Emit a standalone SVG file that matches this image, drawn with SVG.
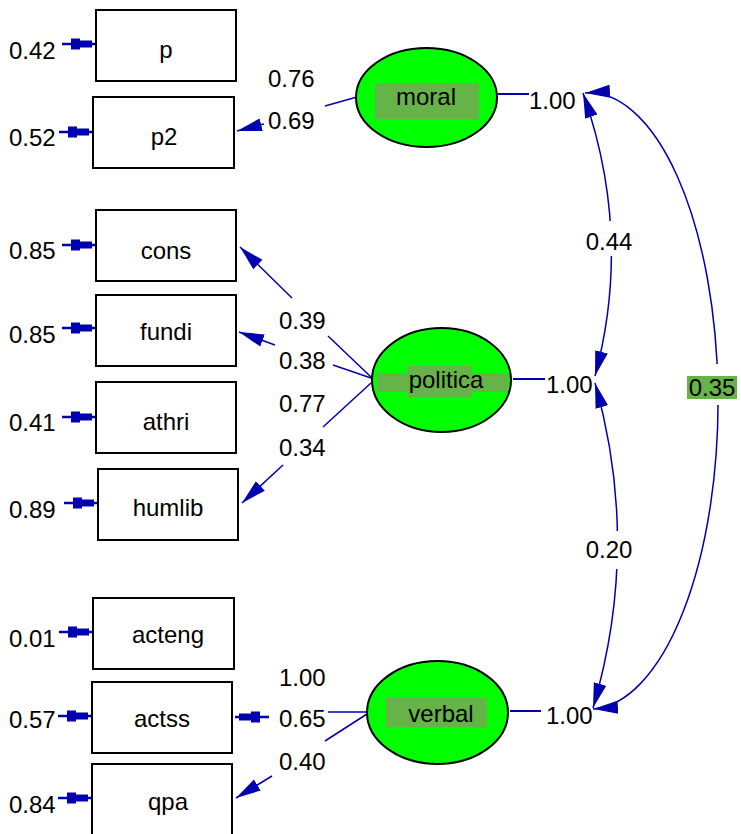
<svg xmlns="http://www.w3.org/2000/svg" xmlns:xlink="http://www.w3.org/1999/xlink" width="741" height="834" viewBox="0 0 741 834">
<style>
text{font-family:"Liberation Sans",Arial,Helvetica,sans-serif;font-size:24px;fill:#000}
.box{fill:#fff;stroke:#000;stroke-width:2}
.lat{fill:#00ff00;stroke:#000;stroke-width:2}
.lbl{fill:#66b34a}
.c{fill:none;stroke:#0000b0;stroke-width:1.5}
.e{fill:none;stroke:#0000b0;stroke-width:2}
.mid{text-anchor:middle}
</style>
<defs>
<marker id="ah" markerUnits="userSpaceOnUse" markerWidth="28" markerHeight="18" refX="25" refY="9" orient="auto-start-reverse">
<path d="M0,2.5 L25,9 L0,15.5 Z" fill="#0000b0"/>
</marker>
<g id="err">
<path d="M-34,0 H0" stroke="#0000b0" stroke-width="2.4"/>
<polygon points="-25,-5.5 -16,-5.5 -16,-3.5 -4,-3.5 -4,3.5 -16,3.5 -16,5.5 -25,5.5" fill="#0000b0"/>
</g>
</defs>

<g id="connectors">
<use xlink:href="#err" href="#err" transform="translate(96,44)"/>
<use xlink:href="#err" href="#err" transform="translate(93,132)"/>
<use xlink:href="#err" href="#err" transform="translate(96,245)"/>
<use xlink:href="#err" href="#err" transform="translate(96,328)"/>
<use xlink:href="#err" href="#err" transform="translate(96,417)"/>
<use xlink:href="#err" href="#err" transform="translate(98,503)"/>
<use xlink:href="#err" href="#err" transform="translate(93,632)"/>
<use xlink:href="#err" href="#err" transform="translate(92,716)"/>
<use xlink:href="#err" href="#err" transform="translate(92,798)"/>
<path class="c" d="M357,97 L325,106"/>
<path class="c" d="M264,124 L237,131" marker-end="url(#ah)"/>
<path class="c" d="M371,377 L328,336"/>
<path class="c" d="M292,298 L240,247" marker-end="url(#ah)"/>
<path class="c" d="M371,378 L333,365"/>
<path class="c" d="M275,345 L239,332" marker-end="url(#ah)"/>
<path class="c" d="M371,383 L323,427"/>
<path class="c" d="M283,465 L242,503" marker-end="url(#ah)"/>
<path class="c" d="M367,712 L328,712"/>
<use xlink:href="#err" href="#err" transform="translate(235,717) rotate(180)"/>
<path class="c" d="M367,714 L325,741"/>
<path class="c" d="M272,776 L236,798" marker-end="url(#ah)"/>
<path class="e" d="M498,94 H529"/>
<path class="e" d="M513,379 H545"/>
<path class="e" d="M510,711 H541"/>
<path class="c" d="M583,93 Q633,235 595,376" marker-start="url(#ah)" marker-end="url(#ah)"/>
<path class="c" d="M595,383 Q641,545 593,708" marker-start="url(#ah)" marker-end="url(#ah)"/>
<path class="c" d="M585,93 A129,308 0 0 1 593,709" marker-start="url(#ah)" marker-end="url(#ah)"/>
<rect x="586" y="221" width="48" height="35" fill="#fff"/>
<rect x="586" y="531" width="48" height="38" fill="#fff"/>
<rect x="700" y="364" width="36" height="41" fill="#fff"/>
<rect class="lbl" x="687" y="376" width="50" height="23"/>
<text x="609" y="250" class="mid">0.44</text>
<text x="609" y="558" class="mid">0.20</text>
<text x="712" y="396" class="mid">0.35</text>
<text x="268" y="87">0.76</text>
<text x="268" y="129">0.69</text>
<text x="279" y="329">0.39</text>
<text x="279" y="369">0.38</text>
<text x="279" y="412">0.77</text>
<text x="279" y="456">0.34</text>
<text x="279" y="686">1.00</text>
<text x="279" y="727">0.65</text>
<text x="279" y="770">0.40</text>
<text x="529" y="109">1.00</text>
<text x="546" y="393">1.00</text>
<text x="546" y="724">1.00</text>
</g>

<g id="p">
<rect class="box" x="96" y="10" width="140" height="71"/>
<text x="166" y="58" class="mid">p</text>
<text x="9" y="59">0.42</text>
</g>
<g id="p2">
<rect class="box" x="93" y="97" width="141" height="71"/>
<text x="164" y="145" class="mid">p2</text>
<text x="9" y="146">0.52</text>
</g>
<g id="cons">
<rect class="box" x="96" y="210" width="140" height="71"/>
<text x="166" y="259" class="mid">cons</text>
<text x="9" y="259">0.85</text>
</g>
<g id="fundi">
<rect class="box" x="96" y="295" width="140" height="71"/>
<text x="166" y="340" class="mid">fundi</text>
<text x="9" y="343">0.85</text>
</g>
<g id="athri">
<rect class="box" x="96" y="382" width="140" height="71"/>
<text x="166" y="430" class="mid">athri</text>
<text x="9" y="431">0.41</text>
</g>
<g id="humlib">
<rect class="box" x="98" y="469" width="140" height="71"/>
<text x="168" y="516" class="mid">humlib</text>
<text x="9" y="518">0.89</text>
</g>
<g id="acteng">
<rect class="box" x="93" y="598" width="141" height="71"/>
<text x="168" y="643" class="mid">acteng</text>
<text x="9" y="647">0.01</text>
</g>
<g id="actss">
<rect class="box" x="92" y="682" width="140" height="71"/>
<text x="162" y="727" class="mid">actss</text>
<text x="9" y="728">0.57</text>
</g>
<g id="qpa">
<rect class="box" x="92" y="764" width="140" height="72"/>
<text x="168" y="810" class="mid">qpa</text>
<text x="9" y="813">0.84</text>
</g>

<g id="moral">
<ellipse class="lat" cx="426.5" cy="97.5" rx="70.5" ry="49.5"/>
<rect class="lbl" x="375" y="83" width="104" height="36"/>
<text x="426" y="105" class="mid">moral</text>
</g>
<g id="politica">
<ellipse class="lat" cx="441.5" cy="380" rx="69.5" ry="52"/>
<rect class="lbl" x="377" y="373" width="131" height="19"/>
<rect class="lbl" x="407" y="366" width="65" height="31"/>
<text x="446" y="388" class="mid">politica</text>
</g>
<g id="verbal">
<ellipse class="lat" cx="437.5" cy="712.5" rx="70.5" ry="51.5"/>
<rect class="lbl" x="386" y="698" width="101" height="29"/>
<text x="441" y="722" class="mid">verbal</text>
</g>
</svg>
